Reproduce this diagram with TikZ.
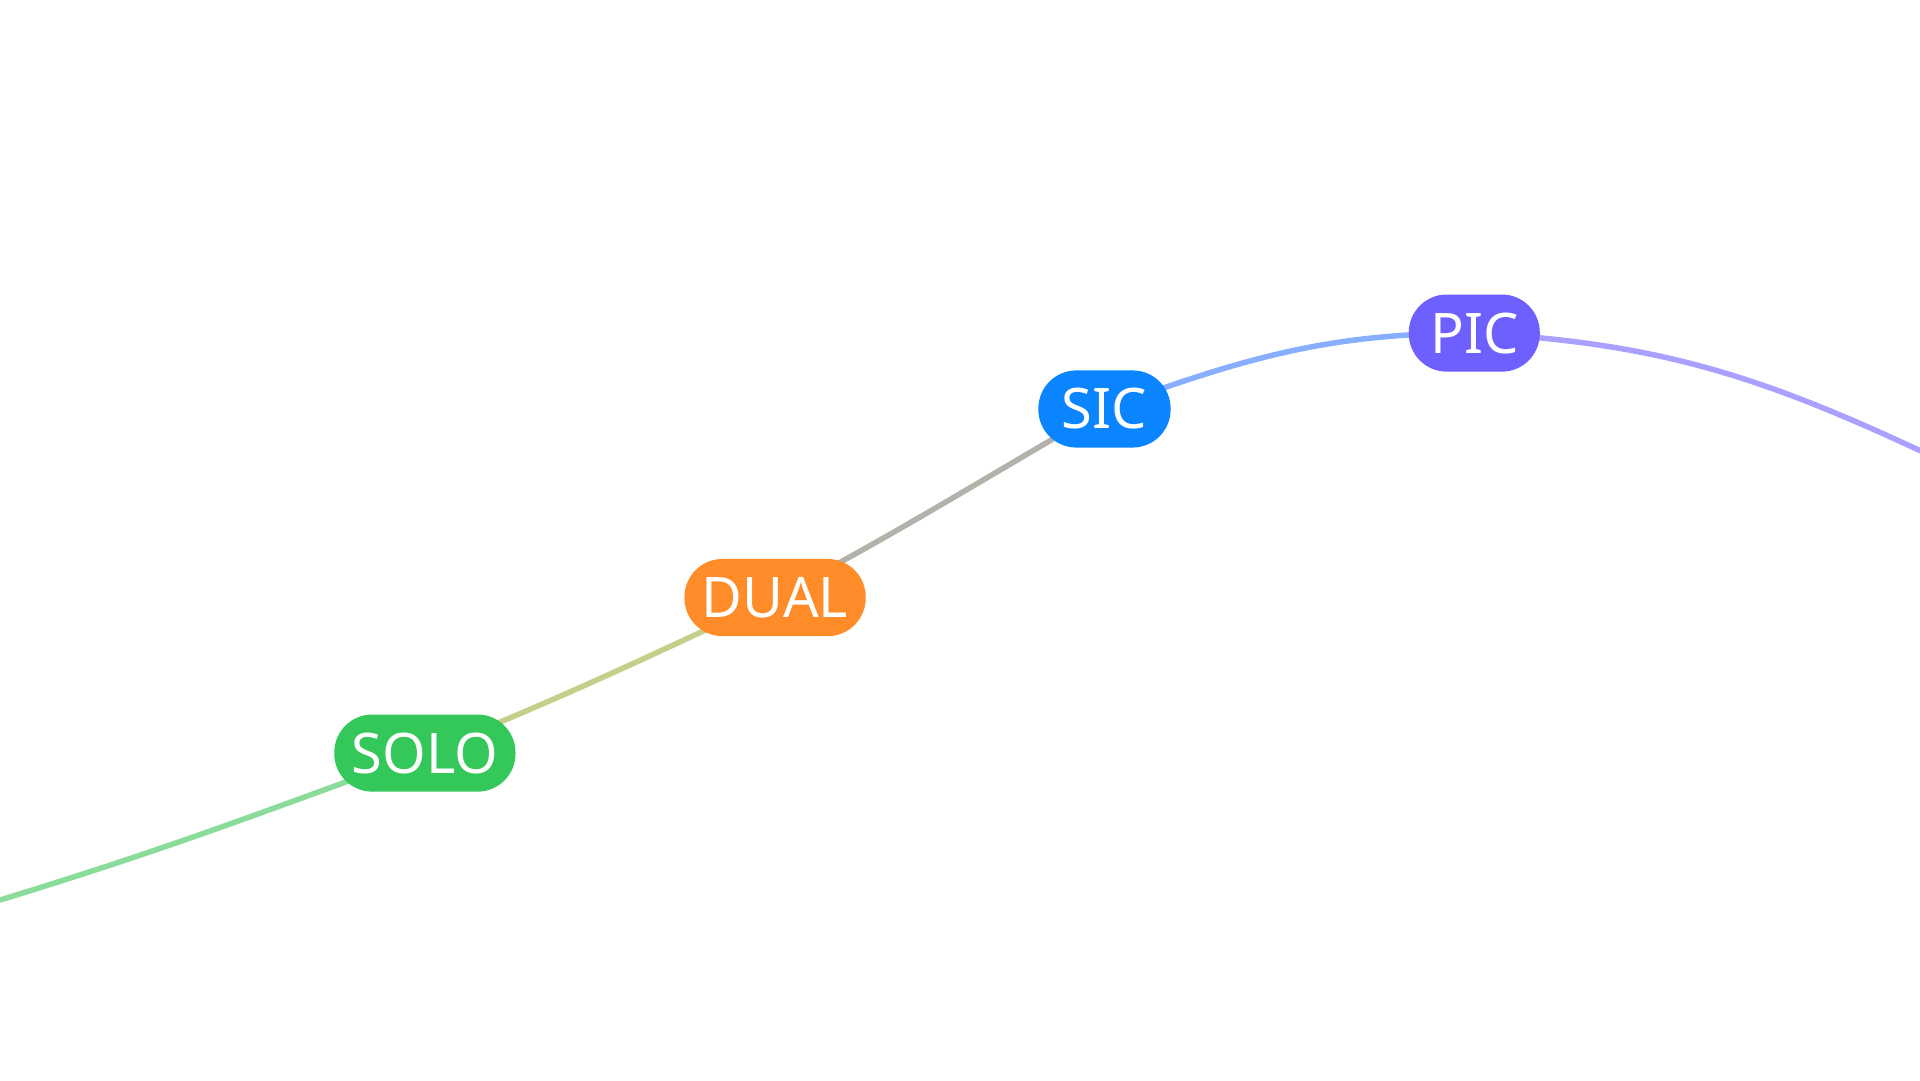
\documentclass[tikz,border=0pt]{standalone}
\usepackage{fontspec}
\setmainfont{Noto Sans}
\usetikzlibrary{backgrounds}
\definecolor{solo}{HTML}{34C759}
\definecolor{dual}{HTML}{FF8C28}
\definecolor{sic}{HTML}{0A84FF}
\definecolor{pic}{HTML}{6E60FF}
\tikzset{
  stage/.style={rounded corners=3.1mm, minimum height=6.3mm, text=white,
    font=\fontsize{13}{13}\selectfont\bfseries, inner sep=0pt},
  link/.style={line width=0.45mm, line cap=round}
}
\begin{document}
\begin{tikzpicture}[x=0.1mm,y=0.1mm]
\useasboundingbox (0,0) rectangle (1568,-882);
\node[stage, fill=solo, minimum width=14.8mm] (solo) at (347,-615) {SOLO};
\node[stage, fill=dual, minimum width=14.8mm] (dual) at (633,-488) {DUAL};
\node[stage, fill=sic, minimum width=10.8mm] (sic) at (902,-334) {SIC};
\node[stage, fill=pic, minimum width=10.7mm] (pic) at (1204,-272) {PIC};
\coordinate (start) at (0,-735);
\coordinate (end) at (1568,-368);
\begin{scope}[on background layer]
\draw[link, color=green!45!white!90!black, draw={rgb,255:red,138;green,220;blue,154}] (start) to[out=17, in=200] (solo.center);
\draw[link, draw={rgb,255:red,196;green,207;blue,138}] (solo.center) to[out=22, in=205] (dual.center);
\draw[link, draw={rgb,255:red,178;green,178;blue,170}] (dual.center) to[out=28, in=210] (sic.center);
\draw[link, draw={rgb,255:red,136;green,174;blue,255}] (sic.center) to[out=20, in=180] (pic.center);
\draw[link, draw={rgb,255:red,170;green,160;blue,255}] (pic.center) to[out=-3, in=155] (end);
\end{scope}
\end{tikzpicture}
\end{document}
